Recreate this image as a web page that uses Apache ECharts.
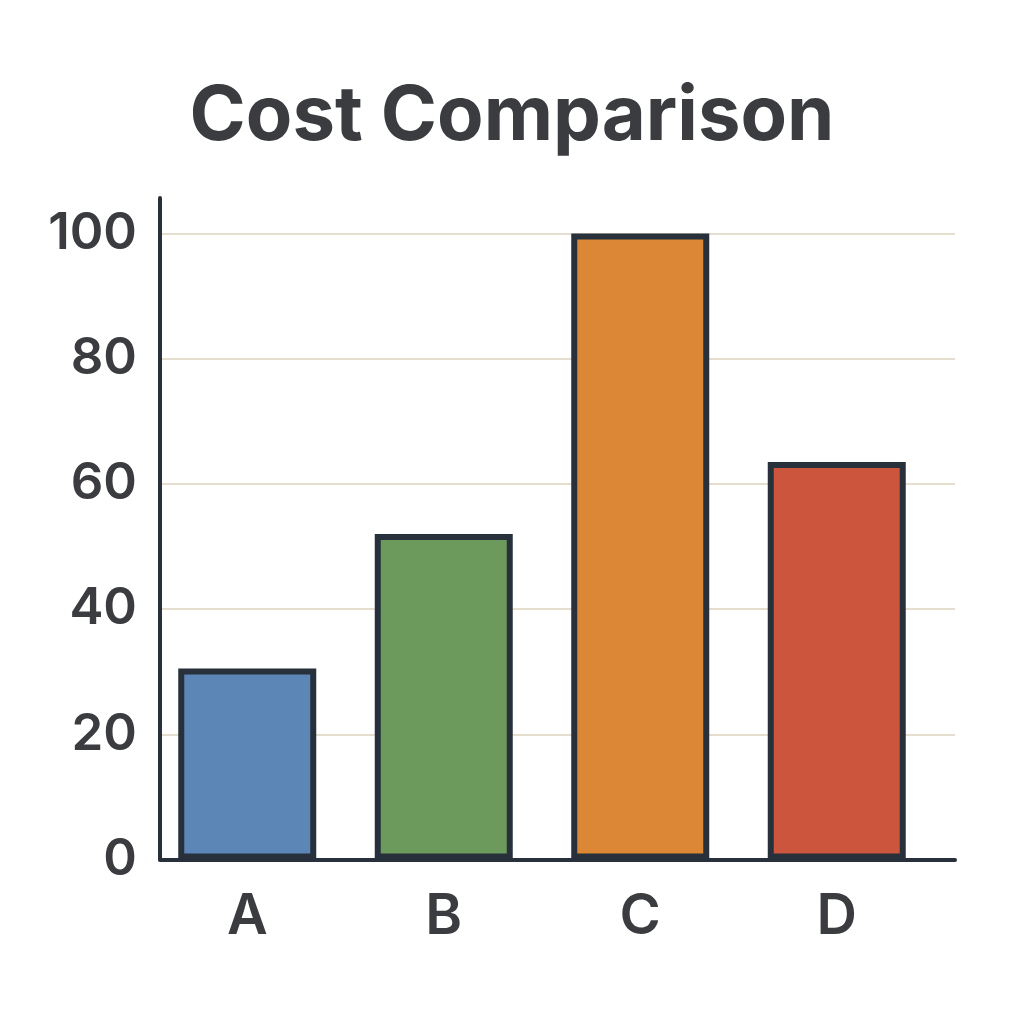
<!DOCTYPE html>
<html>
<head>
<meta charset="utf-8">
<script src="https://cdn.jsdelivr.net/npm/echarts@6/dist/echarts.min.js"></script>
<style>
html,body{margin:0;padding:0;background:#fff;}
#chart{width:1024px;height:1024px;}
</style>
</head>
<body>
<div id="chart"></div>
<script>
const titleText = "Cost Comparison";
const categories = ["A", "B", "C", "D"];
const costValues = [30.5, 52, 100, 63.5];
const barColors = ["#5b86b6", "#6b9a5c", "#db8736", "#cb553d"];
const yTicks = [0, 20, 40, 60, 80, 100];

const chart = echarts.init(document.getElementById('chart'), null, {renderer: 'canvas'});
const ink = '#27303b';
const textColor = '#3a3c3f';
const FONT = 'Inter, "Noto Sans", sans-serif';

chart.setOption({
  backgroundColor: '#ffffff',
  animation: false,
  title: {
    text: titleText,
    left: 'center',
    top: 74,
    textStyle: {fontFamily: FONT, fontSize: 76, fontWeight: 'bold', color: textColor}
  },
  grid: [
    {left: 149, right: 89, top: 233.5, bottom: 164.5},
    {left: 160, right: 69, top: 233.5, bottom: 164.5},
    {left: 160, right: 69, top: 198, bottom: 164.5}
  ],
  xAxis: [
    {
      gridIndex: 0, type: 'category', data: categories,
      axisLine: {show: false}, axisTick: {show: false},
      axisLabel: {fontFamily: FONT, fontSize: 56, fontWeight: 600, color: textColor, margin: 30}
    },
    {gridIndex: 1, type: 'value', min: 0, max: 1, show: false},
    {
      gridIndex: 2, type: 'value', min: 0, max: 1,
      axisLine: {show: true, onZero: false, lineStyle: {color: ink, width: 4}},
      axisTick: {show: false}, axisLabel: {show: false}, splitLine: {show: false}
    }
  ],
  yAxis: [
    {gridIndex: 0, type: 'value', min: 0, max: yTicks[yTicks.length - 1], show: false},
    {
      gridIndex: 1, type: 'value', min: 0, max: yTicks[yTicks.length - 1], interval: yTicks[1] - yTicks[0],
      axisLine: {show: false}, axisTick: {show: false},
      axisLabel: {fontFamily: FONT, fontSize: 51, fontWeight: 600, color: textColor, margin: 23},
      splitLine: {show: true, lineStyle: {color: '#ddd2bd', width: 1.5}}
    },
    {
      gridIndex: 2, type: 'value', min: 0, max: 1,
      axisLine: {show: true, onZero: false, lineStyle: {color: ink, width: 4}},
      axisTick: {show: false}, axisLabel: {show: false}, splitLine: {show: false}
    }
  ],
  series: [{
    type: 'bar',
    xAxisIndex: 0, yAxisIndex: 0,
    data: costValues.map((v, i) => ({value: v, itemStyle: {color: barColors[i]}})),
    barWidth: 138,
    z: 5,
    itemStyle: {borderColor: ink, borderWidth: 6}
  }]
});
</script>
</body>
</html>
